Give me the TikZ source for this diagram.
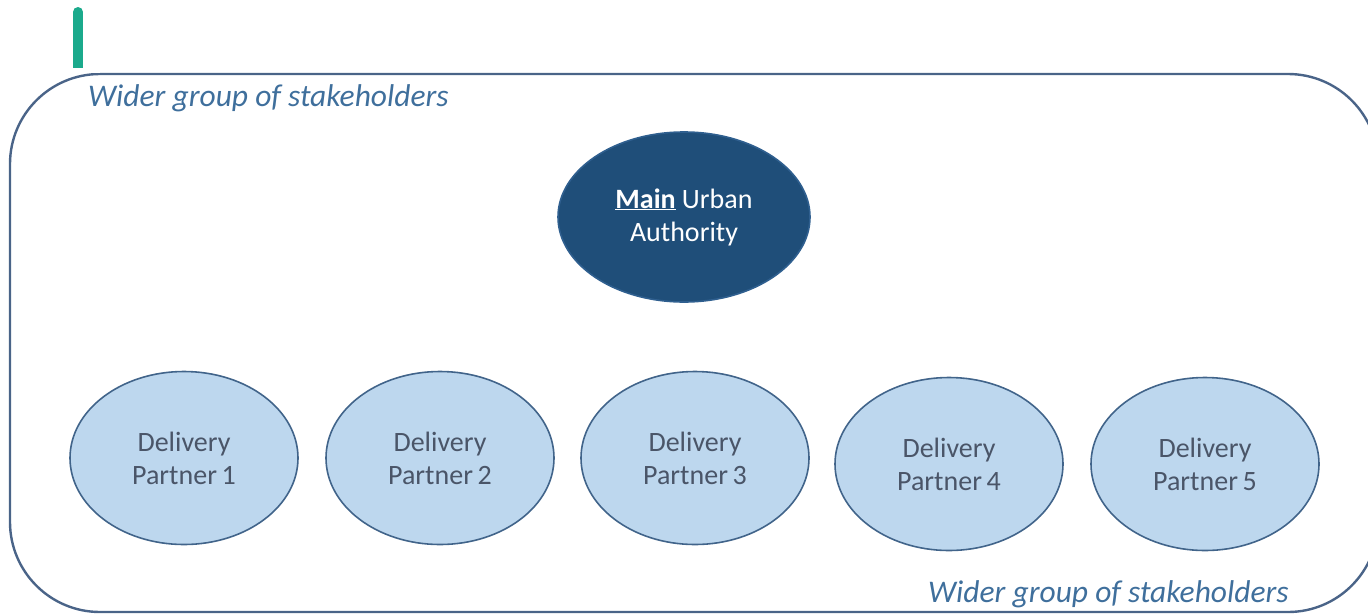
\documentclass[tikz,border=0pt]{standalone}
\usepackage{fontspec}
\setmainfont{Carlito}
\usetikzlibrary{shapes.geometric}
\definecolor{frame}{HTML}{4A6488}
\definecolor{teal}{HTML}{1BAA8C}
\definecolor{dark}{HTML}{1F4E79}
\definecolor{darkedge}{HTML}{2F5F8F}
\definecolor{light}{HTML}{BDD7EE}
\definecolor{lightedge}{HTML}{41648A}
\definecolor{ptext}{HTML}{4A5568}
\definecolor{wtext}{HTML}{3F6F9C}
\tikzset{
  partner/.style={ellipse, draw=lightedge, line width=1.6pt, fill=light,
    minimum width=228pt, minimum height=173pt, inner sep=0pt,
    text=ptext, align=center, font=\fontsize{28}{33}\selectfont},
  mainua/.style={ellipse, draw=darkedge, line width=1.6pt, fill=dark,
    minimum width=252pt, minimum height=170pt, inner sep=0pt,
    text=white, align=center, font=\fontsize{28}{33}\selectfont},
  wider/.style={text=wtext, font=\fontsize{31.5}{34}\selectfont\itshape, inner sep=0pt}
}
\begin{document}
\begin{tikzpicture}[x=1pt,y=-1pt]
\useasboundingbox (0,0) rectangle (1368,614);
\begin{scope}
\clip (0,0) rectangle (1368,614);
\draw[frame, line width=2.4pt, rounded corners=90pt] (10,74) rectangle (1378,612);
\end{scope}
\draw[teal, line width=10pt, line cap=round] (78,12) -- (78,68);
\fill[white] (60,68) rectangle (100,72.5);
\node[wider, anchor=base west] (wtl) at (88,106) {Wider group of stakeholders};
\node[wider, anchor=base west] (wbr) at (928,602) {Wider group of stakeholders};
\node[mainua] (main) at (684,217) {\underline{\textbf{Main}} Urban\\Authority};
\node[partner] (p1) at (184,458) {Delivery\\Partner\,1};
\node[partner] (p2) at (440,458) {Delivery\\Partner\,2};
\node[partner] (p3) at (695,458) {Delivery\\Partner\,3};
\node[partner] (p4) at (949,464) {Delivery\\Partner\,4};
\node[partner] (p5) at (1205,464) {Delivery\\Partner\,5};
\end{tikzpicture}
\end{document}
